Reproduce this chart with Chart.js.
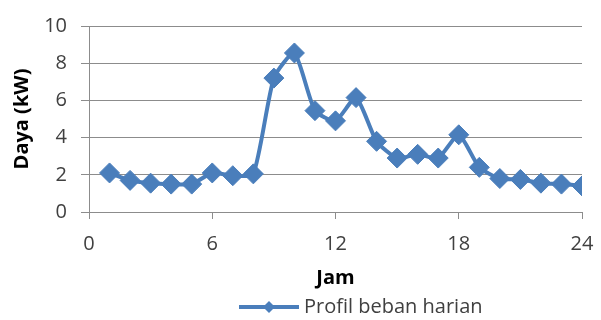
<!DOCTYPE html>
<html>
<head>
<meta charset="utf-8">
<script src="https://cdn.jsdelivr.net/npm/chart.js@4.4.1/dist/chart.umd.min.js"></script>
<style>
  html, body { margin: 0; padding: 0; background: #fff; }
  #wrap { width: 601px; height: 320px; }
</style>
</head>
<body>
<div id="wrap"><canvas id="c" width="601" height="320"></canvas></div>
<script>
// Daily load profile, hour of day vs. power in kW
const hours = [1, 2, 3, 4, 5, 6, 7, 8, 9, 10, 11, 12, 13, 14, 15, 16, 17, 18, 19, 20, 21, 22, 23, 24];
const powerKW = [2.1, 1.7, 1.55, 1.5, 1.5, 2.1, 1.95, 2.05, 7.2, 8.55, 5.45, 4.9, 6.15, 3.8, 2.9, 3.1, 2.9, 4.15, 2.4, 1.8, 1.75, 1.55, 1.5, 1.4];
const xTicks = [0, 6, 12, 18, 24];
const yTicks = [0, 2, 4, 6, 8, 10];
const seriesLabel = 'Profil beban harian';
const xTitle = 'Jam';
const yTitle = 'Daya (kW)';

const BLUE = '#4A7EBB';
const TEXT = '#404040';
const GRID = '#8C8C8C';
const FONT = '"Open Sans", Lato, sans-serif';
const FONT_SIZE = 20;

// Legend entry drawn under the axis title: line sample with a diamond, then the label
const lineLegend = {
  id: 'lineLegend',
  afterDraw(chart) {
    const ctx = chart.ctx;
    const area = chart.chartArea;
    const y = 307;
    const x0 = area.left + 150;
    const w = 60;
    const r = 6;
    const cx = x0 + w / 2;
    ctx.save();
    ctx.strokeStyle = BLUE;
    ctx.lineWidth = 4;
    ctx.beginPath();
    ctx.moveTo(x0, y);
    ctx.lineTo(x0 + w, y);
    ctx.stroke();
    ctx.fillStyle = BLUE;
    ctx.beginPath();
    ctx.moveTo(cx, y - r);
    ctx.lineTo(cx + r, y);
    ctx.lineTo(cx, y + r);
    ctx.lineTo(cx - r, y);
    ctx.closePath();
    ctx.fill();
    ctx.fillStyle = TEXT;
    ctx.font = FONT_SIZE + 'px ' + FONT;
    ctx.textBaseline = 'middle';
    ctx.textAlign = 'left';
    ctx.fillText(seriesLabel, x0 + w + 5, y);
    ctx.restore();
  }
};

new Chart(document.getElementById('c'), {
  type: 'line',
  data: {
    datasets: [{
      label: seriesLabel,
      data: hours.map((h, i) => ({ x: h, y: powerKW[i] })),
      borderColor: BLUE,
      backgroundColor: BLUE,
      borderWidth: 4,
      tension: 0.2,
      pointStyle: 'rectRot',
      pointRadius: 10,
      pointBorderWidth: 1,
      pointBackgroundColor: BLUE,
      pointBorderColor: BLUE
    }]
  },
  options: {
    responsive: false,
    animation: false,
    devicePixelRatio: 1,
    layout: { padding: { left: 10, right: 19, top: 12, bottom: 30 } },
    plugins: { legend: { display: false }, tooltip: { enabled: false } },
    scales: {
      x: {
        type: 'linear',
        min: 0,
        max: 24,
        afterBuildTicks: s => { s.ticks = xTicks.map(v => ({ value: v })); },
        afterFit: s => { s.height = 78; s.paddingRight = 0; s.paddingLeft = 0; },
        grid: { drawOnChartArea: false, drawTicks: true, tickLength: 7, color: GRID, tickColor: GRID },
        border: { color: GRID, width: 1 },
        ticks: { color: TEXT, font: { family: FONT, size: FONT_SIZE }, padding: 13, maxRotation: 0 },
        title: { display: true, text: xTitle, color: '#000', font: { family: FONT, size: FONT_SIZE, weight: 'bold' }, padding: { top: 4, bottom: 0 } }
      },
      y: {
        min: 0,
        max: 10,
        afterBuildTicks: s => { s.ticks = yTicks.map(v => ({ value: v })); },
        afterFit: s => { s.width = 79; },
        grid: { color: GRID, tickColor: GRID, tickLength: 8, lineWidth: 1 },
        border: { color: GRID, width: 1 },
        ticks: { color: TEXT, font: { family: FONT, size: FONT_SIZE }, padding: 14 },
        title: { display: true, text: yTitle, color: '#000', font: { family: FONT, size: FONT_SIZE, weight: 'bold' }, padding: { top: 0, bottom: 0 } }
      }
    }
  },
  plugins: [lineLegend]
});
</script>
</body>
</html>
